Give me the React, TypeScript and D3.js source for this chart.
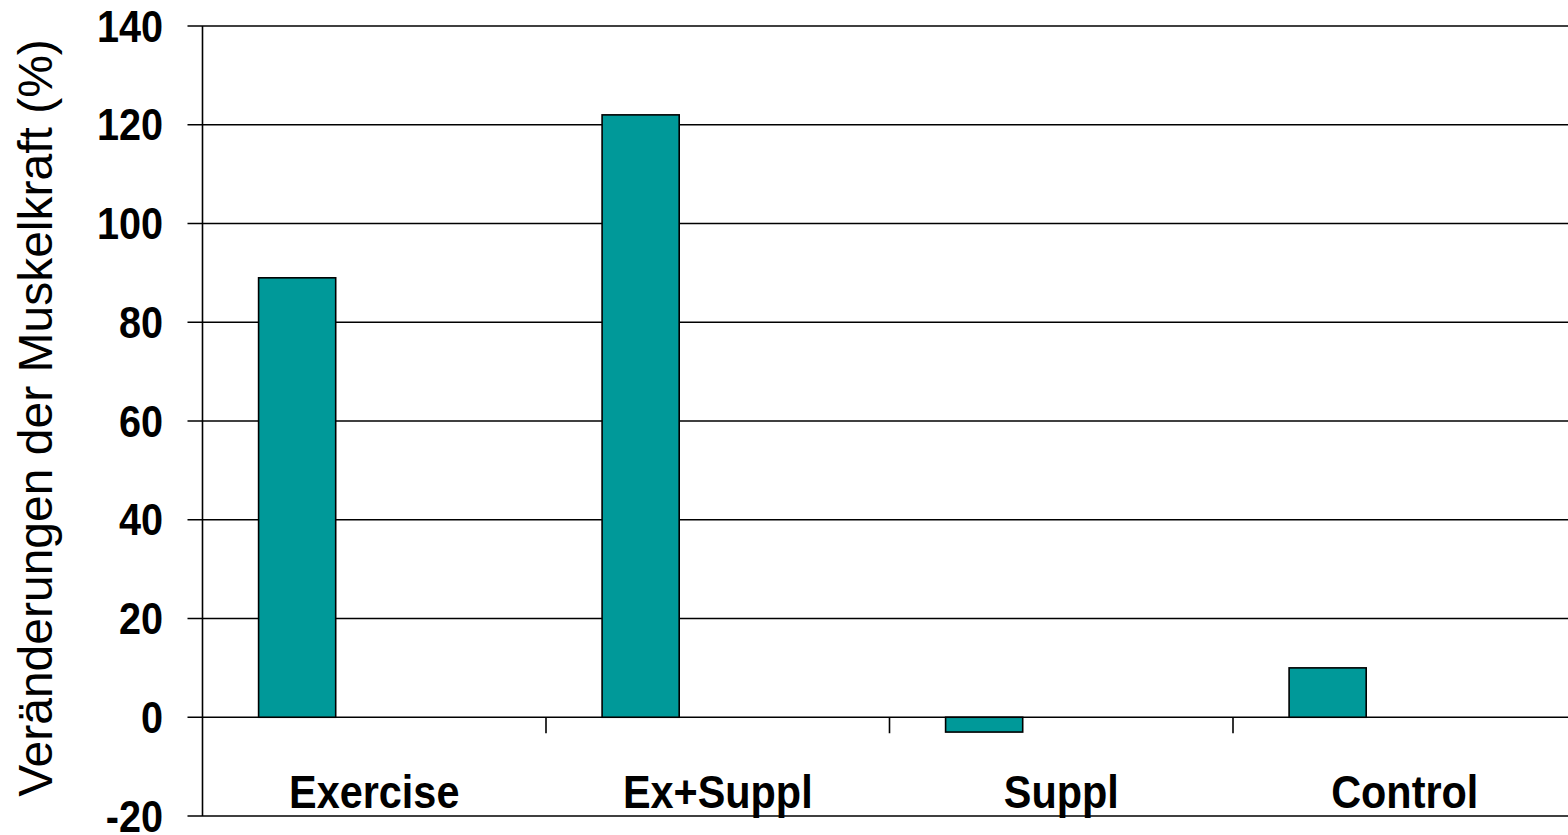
import React from "react";
import * as d3 from "d3";

// Relative change in muscle strength per study group
const categories = ["Exercise", "Ex+Suppl", "Suppl", "Control"];
const values = [89, 122, -3, 10];
const yTicks = [-20, 0, 20, 40, 60, 80, 100, 120, 140];
const yTitle = "Veränderungen der Muskelkraft (%)";

const W = 1568;
const H = 835;
const plotLeft = 202.5;
const bandW = 343.5;
const plotRight = plotLeft + bandW * categories.length;
const plotTop = 26;
const plotBottom = 816;

const BAR_FILL = "#009999";
const FONT = "'Liberation Sans', Arial, Helvetica, sans-serif";

export default function App() {
  const x = d3
    .scaleBand<string>()
    .domain(categories)
    .range([plotLeft, plotRight])
    .paddingInner(0)
    .paddingOuter(0);
  const y = d3.scaleLinear().domain([-20, 140]).range([plotBottom, plotTop]);

  // three slots per category, only the first one carries a bar
  const slot = d3
    .scaleBand<number>()
    .domain([0, 1, 2])
    .range([0, x.bandwidth()])
    .paddingInner(0)
    .paddingOuter(0.7275);

  const y0 = y(0);
  const tickLen = 15;

  return (
    <svg
      width={W}
      height={H}
      style={{ position: "absolute", left: 0, top: 0, background: "#fff" }}
      fontFamily={FONT}
    >
      {/* horizontal gridlines with outward tick marks */}
      {yTicks.map((t) => (
        <line
          key={"g" + t}
          x1={plotLeft - tickLen}
          x2={plotRight}
          y1={y(t)}
          y2={y(t)}
          stroke="#000"
          strokeWidth={1.6}
        />
      ))}
      {/* value axis */}
      <line x1={plotLeft} x2={plotLeft} y1={plotTop} y2={plotBottom} stroke="#000" strokeWidth={1.6} />
      {/* category tick marks below the zero line */}
      {categories.slice(1).map((c) => (
        <line
          key={"ct" + c}
          x1={x(c)!}
          x2={x(c)!}
          y1={y0}
          y2={y0 + 16}
          stroke="#000"
          strokeWidth={1.6}
        />
      ))}
      {/* bars */}
      {categories.map((c, i) => {
        const v = values[i];
        const bx = x(c)! + slot(0)!;
        const top = Math.min(y(v), y0);
        const h = Math.abs(y(v) - y0);
        return (
          <rect
            key={"b" + c}
            x={bx}
            y={top}
            width={slot.bandwidth()}
            height={h}
            fill={BAR_FILL}
            stroke="#000"
            strokeWidth={1.6}
          />
        );
      })}
      {/* y tick labels */}
      {yTicks.map((t) => (
        <text
          key={"yl" + t}
          transform={`translate(163, ${y(t) + 15.5}) scale(0.9, 1)`}
          textAnchor="end"
          fontSize={44}
          fontWeight="bold"
          fill="#000"
        >
          {t}
        </text>
      ))}
      {/* category labels */}
      {categories.map((c) => (
        <text
          key={"xl" + c}
          transform={`translate(${x(c)! + x.bandwidth() / 2}, 807.5) scale(0.9, 1)`}
          textAnchor="middle"
          fontSize={46}
          fontWeight="bold"
          fill="#000"
        >
          {c}
        </text>
      ))}
      {/* y axis title */}
      <text
        transform={`translate(52, 418) rotate(-90)`}
        textAnchor="middle"
        fontSize={48}
        fill="#000"
      >
        {yTitle}
      </text>
    </svg>
  );
}
